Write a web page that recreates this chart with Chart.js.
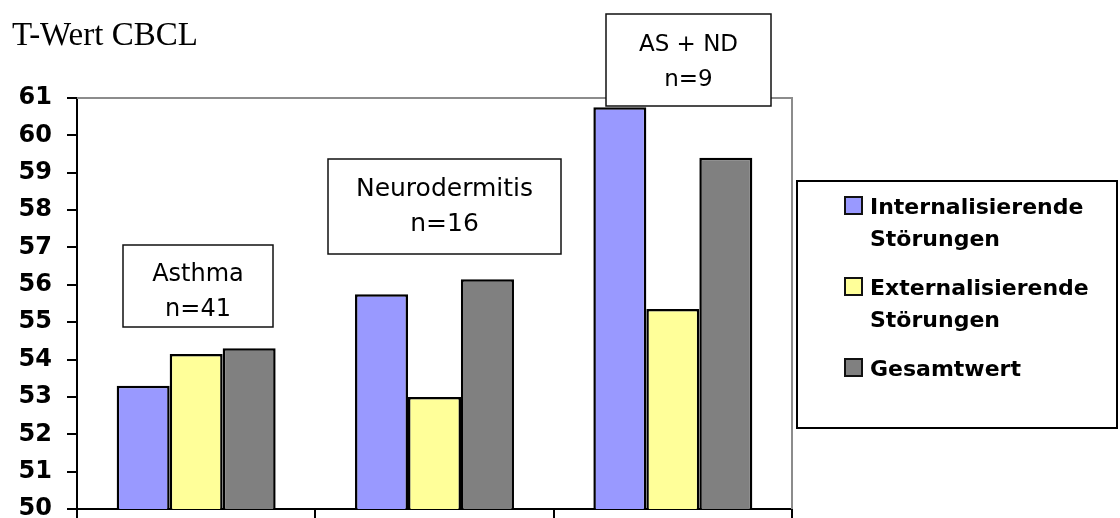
<!DOCTYPE html>
<html>
<head>
<meta charset="utf-8">
<script src="https://cdn.jsdelivr.net/npm/chart.js@4.4.1/dist/chart.umd.min.js"></script>
<style>
  html, body { margin: 0; padding: 0; background: #fff; }
  #wrap { position: relative; width: 1120px; height: 518px; }
</style>
</head>
<body>
<div id="wrap"><canvas id="c" width="1120" height="518"></canvas></div>
<script>
// Groups and their sample sizes
const categories = ['Asthma', 'Neurodermitis', 'AS + ND'];
const groupSizes = [41, 16, 9];

// CBCL T-values per group
const internalisierend = [53.3, 55.75, 60.75];
const externalisierend = [54.15, 53.0, 55.35];
const gesamtwert = [54.3, 56.15, 59.4];

// Legend names (line-broken as shown) and fills
const seriesNames = [
  ['Internalisierende', 'Störungen'],
  ['Externalisierende', 'Störungen'],
  ['Gesamtwert']
];
const seriesColors = ['#9999FF', '#FFFF99', '#808080'];

// Value axis range
const yMin = 50;
const yMax = 61;
const yStep = 1;

const SANS = '"DejaVu Sans", Verdana, sans-serif';

// Plot frame: gray top and right edges
const framePlugin = {
  id: 'frame',
  beforeDatasetsDraw(chart) {
    const { ctx, chartArea: a } = chart;
    ctx.save();
    ctx.strokeStyle = '#8c8c8c';
    ctx.lineWidth = 2;
    ctx.beginPath();
    ctx.moveTo(a.left, a.top);
    ctx.lineTo(a.right, a.top);
    ctx.lineTo(a.right, a.bottom);
    ctx.stroke();
    ctx.restore();
  }
};

// Title, group captions and legend box
const textPlugin = {
  id: 'texts',
  afterDraw(chart) {
    const { ctx } = chart;
    ctx.save();

    // Title
    ctx.fillStyle = '#000';
    ctx.font = '33px "Liberation Serif", "Times New Roman", serif';
    ctx.textAlign = 'left';
    ctx.textBaseline = 'alphabetic';
    ctx.fillText('T-Wert CBCL', 12, 45);

    // Group captions
    const boxes = [
      { x: 123, y: 245, w: 150, h: 82, b1: 281, b2: 316, size: 24 },
      { x: 328, y: 159, w: 233, h: 95, b1: 196, b2: 231, size: 25 },
      { x: 606, y: 14, w: 165, h: 92, b1: 51, b2: 86, size: 23 }
    ];
    ctx.textAlign = 'center';
    boxes.forEach((bx, i) => {
      ctx.fillStyle = '#fff';
      ctx.fillRect(bx.x, bx.y, bx.w, bx.h);
      ctx.strokeStyle = '#111';
      ctx.lineWidth = 1.5;
      ctx.strokeRect(bx.x, bx.y, bx.w, bx.h);
      ctx.fillStyle = '#000';
      ctx.font = bx.size + 'px ' + SANS;
      const cx = bx.x + bx.w / 2;
      ctx.fillText(categories[i], cx, bx.b1);
      ctx.fillText('n=' + groupSizes[i], cx, bx.b2);
    });

    // Legend
    ctx.fillStyle = '#fff';
    ctx.fillRect(797, 181, 320, 247);
    ctx.strokeStyle = '#000';
    ctx.lineWidth = 2;
    ctx.strokeRect(797, 181, 320, 247);
    ctx.font = 'bold 22px ' + SANS;
    ctx.textAlign = 'left';
    let base = 214;
    chart.data.datasets.forEach((ds, i) => {
      const lines = seriesNames[i];
      ctx.fillStyle = ds.backgroundColor;
      ctx.fillRect(845, base - 17, 17, 17);
      ctx.strokeStyle = '#111';
      ctx.lineWidth = 2;
      ctx.strokeRect(845, base - 17, 17, 17);
      ctx.fillStyle = '#000';
      lines.forEach((ln, j) => ctx.fillText(ln, 870, base + j * 32));
      base += lines.length * 32 + 17;
    });

    ctx.restore();
  }
};

const datasets = [internalisierend, externalisierend, gesamtwert].map((vals, i) => ({
  label: seriesNames[i].join(' '),
  data: vals,
  backgroundColor: seriesColors[i],
  borderColor: '#000',
  borderWidth: 2.5,
  borderSkipped: false,
  barPercentage: 1.0,
  categoryPercentage: 0.667
}));

new Chart(document.getElementById('c'), {
  type: 'bar',
  data: { labels: categories, datasets },
  options: {
    responsive: false,
    animation: false,
    devicePixelRatio: 1,
    layout: { padding: { top: 98, right: 328, left: 0, bottom: 0 } },
    plugins: {
      legend: { display: false },
      tooltip: { enabled: false },
      title: { display: false }
    },
    scales: {
      x: {
        afterFit(scale) {
          scale.height = 9;
          scale.paddingLeft = 0;
          scale.paddingRight = 0;
        },
        ticks: { display: false },
        grid: {
          offset: true,
          drawOnChartArea: false,
          drawTicks: true,
          tickLength: 9,
          color: '#000',
          lineWidth: 2
        },
        border: { color: '#000', width: 2 }
      },
      y: {
        min: yMin,
        max: yMax,
        afterFit(scale) {
          scale.width = 77;
          scale.paddingTop = 0;
          scale.paddingBottom = 0;
        },
        ticks: {
          stepSize: yStep,
          padding: 15,
          color: '#000',
          font: { family: SANS, size: 24, weight: 'bold' }
        },
        grid: {
          drawOnChartArea: false,
          drawTicks: true,
          tickLength: 10,
          color: '#000',
          lineWidth: 2
        },
        border: { color: '#000', width: 2 }
      }
    }
  },
  plugins: [framePlugin, textPlugin]
});
</script>
</body>
</html>
